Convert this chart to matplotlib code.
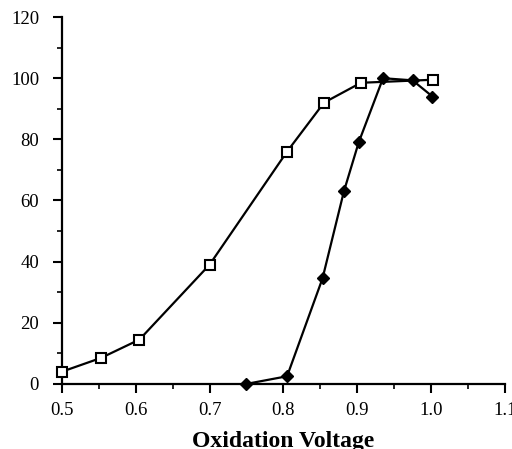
import matplotlib
matplotlib.use("Agg")
import matplotlib.pyplot as plt
from matplotlib.ticker import MultipleLocator, FormatStrFormatter

sq_x = [0.5, 0.553, 0.605, 0.7, 0.805, 0.855, 0.905, 1.003]
sq_y = [4, 8.5, 14.5, 39, 76, 92, 98.5, 99.5]
dm_x = [0.75, 0.805, 0.853, 0.882, 0.902, 0.935, 0.975, 1.002]
dm_y = [0, 2.5, 34.5, 63, 79, 100, 99.3, 94]
xlabel = "Oxidation Voltage"

plt.rcParams['font.family'] = ['Liberation Serif', 'DejaVu Serif']
fig = plt.figure(figsize=(5.12, 4.49), dpi=100)
ax = fig.add_axes([0.121, 0.145, 0.865, 0.817])
ax.plot(sq_x, sq_y, color='black', lw=1.6, marker='s', ms=7, mfc='white', mec='black', mew=1.5, zorder=3)
ax.plot(dm_x, dm_y, color='black', lw=1.6, marker='D', ms=6, mfc='black', mec='black', zorder=3)
ax.set_xlim(0.5, 1.1)
ax.set_ylim(0, 120)
ax.xaxis.set_major_locator(MultipleLocator(0.1))
ax.xaxis.set_minor_locator(MultipleLocator(0.05))
ax.yaxis.set_major_locator(MultipleLocator(20))
ax.yaxis.set_minor_locator(MultipleLocator(10))
ax.xaxis.set_major_formatter(FormatStrFormatter('%.1f'))
for s in ['top', 'right']:
    ax.spines[s].set_visible(False)
for s in ['left', 'bottom']:
    ax.spines[s].set_linewidth(1.6)
ax.tick_params(which='major', length=6.5, width=1.5, labelsize=13.5, direction='out', color='black')
ax.tick_params(which='minor', length=3.5, width=1.2, direction='out')
ax.tick_params(axis='x', which='major', pad=6.5)
ax.tick_params(axis='y', which='major', pad=10)
ax.set_xlabel(xlabel, fontsize=17, fontweight='bold', labelpad=9)
for line in ax.lines:
    line.set_clip_on(False)
fig.savefig('out.png', dpi=100)
